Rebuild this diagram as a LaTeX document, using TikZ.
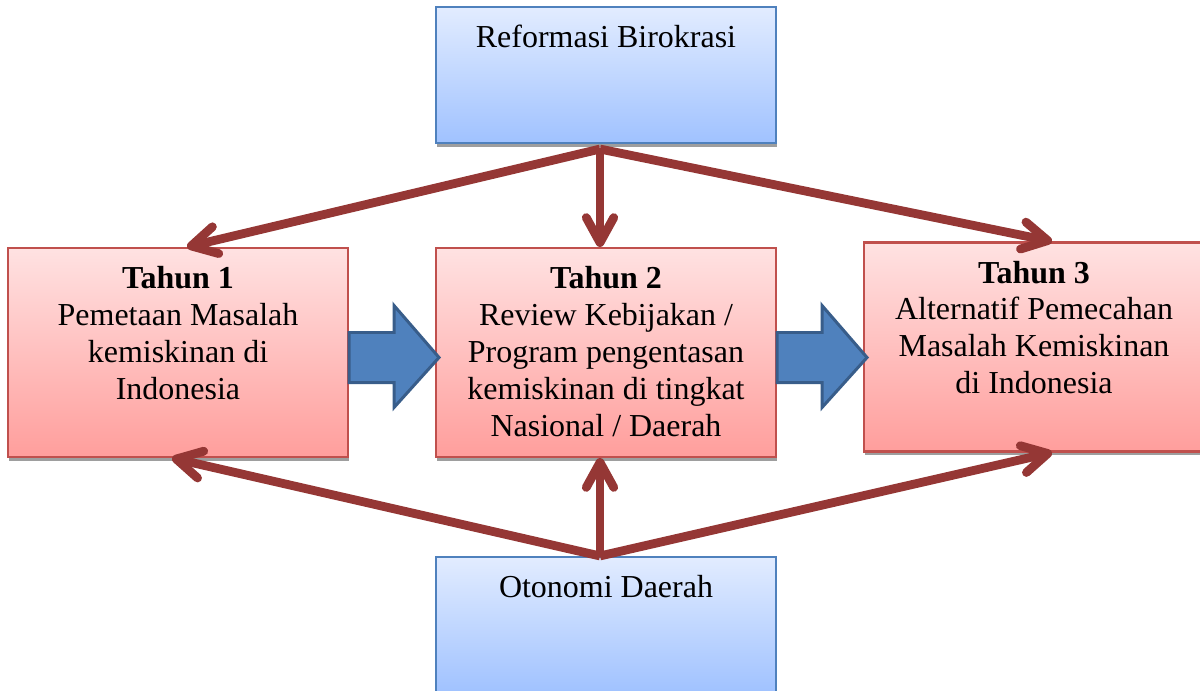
\documentclass[tikz,border=0pt]{standalone}
\usepackage{fontspec}
\setmainfont{Liberation Serif}
\usetikzlibrary{positioning,shadows,arrows.meta,calc}
\definecolor{pinktop}{RGB}{255,226,226}
\definecolor{pinkbottom}{RGB}{255,158,156}
\definecolor{pinkline}{RGB}{192,80,77}
\definecolor{skytop}{RGB}{226,236,255}
\definecolor{skybottom}{RGB}{160,194,255}
\definecolor{skyline}{RGB}{79,129,189}
\definecolor{darkred}{RGB}{149,55,53}
\definecolor{steelblue}{RGB}{79,129,189}
\definecolor{steelline}{RGB}{56,93,138}

\begin{document}
\begin{tikzpicture}[x=0.02cm,y=-0.02cm,
    box/.style={rectangle,minimum width=6.8cm,line width=1.2pt,
        drop shadow={shadow xshift=0.8pt,shadow yshift=-2.2pt,opacity=1,fill=black!38}},
    yearbox/.style={box,draw=pinkline,top color=pinktop,bottom color=pinkbottom,minimum height=4.18cm},
    sourcebox/.style={box,draw=skyline,top color=skytop,bottom color=skybottom,minimum height=2.72cm},
    boxtext/.style={inner sep=0pt,align=center,font=\fontsize{18.2}{21}\selectfont},
    link/.style={darkred,line width=5pt,-{Straight Barb[length=0.5cm,width=0.55cm,round]}},
    bigarrow/.style={fill=steelblue,draw=steelline,line width=1.7pt,line join=miter}]
        \useasboundingbox (0,0) rectangle (1200,690);

        % the boxes
        \node[sourcebox] (rb) at (606,75) {};
        \node[yearbox] (t1) at (178,352.5) {};
        \node[yearbox] (t2) at (606,352.5) {};
        \node[yearbox] (t3) at (1034,347) {};
        \node[sourcebox] (od) at (606,625) {};

        % the texts
        \node[boxtext,below=0.38cm of rb.north] {Reformasi Birokrasi};
        \node[boxtext,below=0.38cm of t1.north] {\textbf{Tahun 1}\\Pemetaan Masalah\\kemiskinan di\\Indonesia};
        \node[boxtext,below=0.38cm of t2.north] {\textbf{Tahun 2}\\Review Kebijakan /\\Program pengentasan\\kemiskinan di tingkat\\Nasional / Daerah};
        \node[boxtext,below=0.38cm of t3.north] {\textbf{Tahun 3}\\Alternatif Pemecahan\\Masalah Kemiskinan\\di Indonesia};
        \node[boxtext,below=0.38cm of od.north] {Otonomi Daerah};

        % links from top and bottom
        \coordinate (rbhub) at ($(rb.south)+(-6,5)$);
        \coordinate (odhub) at ($(od.north)+(-6,0)$);
        \draw[link] (rbhub) -- ($(t1.north)+(9,0)$);
        \draw[link] (rbhub) -- ($(t2.north)+(-6,0)$);
        \draw[link] (rbhub) -- ($(t3.north)+(18,0)$);
        \draw[link] (odhub) -- ($(t1.south)+(-6,0)$);
        \draw[link] (odhub) -- ($(t2.south)+(-6,0)$);
        \draw[link] (odhub) -- ($(t3.south)+(18,0)$);

        % block arrows between the years
        \foreach \from in {t1,t2} {
            \draw[bigarrow] ($(\from.east)+(0,-20)$) -- ++(45,0) -- ++(0,-27) -- ++(45,52)
                -- ++(-45,50) -- ++(0,-25) -- ++(-45,0) -- cycle;
        }
    \end{tikzpicture}
\end{document}
